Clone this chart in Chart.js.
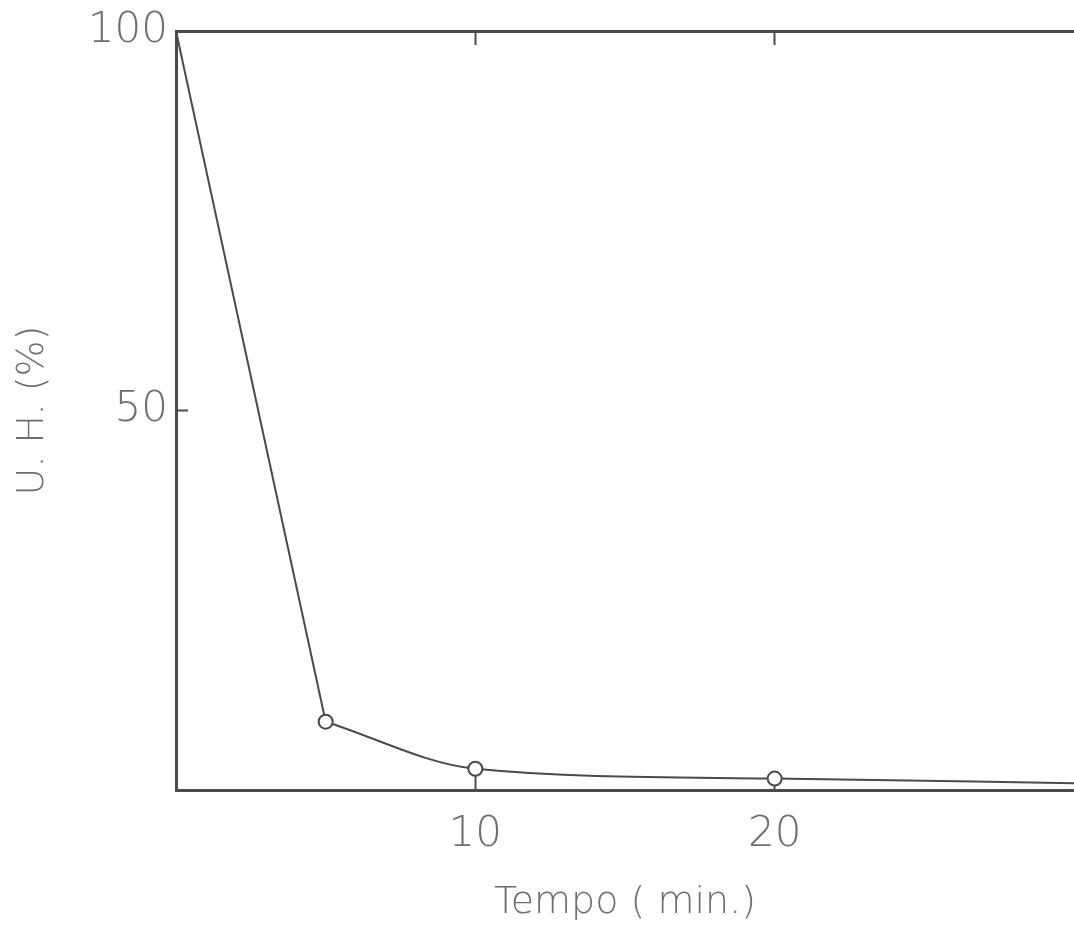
<!DOCTYPE html>
<html>
<head>
<meta charset="utf-8">
<script src="https://cdn.jsdelivr.net/npm/chart.js@4.4.0/dist/chart.umd.min.js"></script>
<style>
  html, body { margin: 0; padding: 0; background: #ffffff; overflow: hidden; }
  #wrap { width: 1074px; height: 950px; position: relative; }
</style>
</head>
<body>
<div id="wrap"><canvas id="chart"></canvas></div>
<script>
// valori
const tempoMin = [0, 5, 10, 20, 30];
const uhValues = [100, 9, 2.8, 1.5, 0.9];
const markerRadius = [0, 7, 7, 7, 0];
const markerBorder = [0, 2, 2, 2, 0];
const xTickValues = [10, 20];
const yTickValues = [50, 100];

const inkColor = '#4a4a4a';
const textColor = '#6e6e6e';
const fontFamily = "'DejaVu Sans', 'Noto Sans', sans-serif";

function toPoints(from, to) {
  const pts = [];
  for (let i = from; i < to; i++) {
    pts.push({ x: tempoMin[i], y: uhValues[i] });
  }
  return pts;
}

function setTicks(values) {
  return function(scale) {
    scale.ticks = values.map(v => ({ value: v }));
  };
}

// niente margini automatici per le etichette
function noPadding(scale) {
  scale.paddingTop = 0;
  scale.paddingBottom = 0;
  scale.paddingLeft = 0;
  scale.paddingRight = 0;
}

const ctx = document.getElementById('chart').getContext('2d');
new Chart(ctx, {
  type: 'scatter',
  data: {
    datasets: [
      {
        // punti misurati (cerchietti vuoti), disegnati sopra le linee
        data: toPoints(0, tempoMin.length),
        showLine: false,
        backgroundColor: '#ffffff',
        borderColor: inkColor,
        pointBorderColor: inkColor,
        pointBorderWidth: markerBorder,
        pointRadius: markerRadius,
        pointHoverRadius: 0
      },
      {
        // tratto iniziale rettilineo
        data: toPoints(0, 2),
        showLine: true,
        borderColor: inkColor,
        borderWidth: 2,
        pointRadius: 0,
        pointHoverRadius: 0,
        pointBorderWidth: 0,
        tension: 0
      },
      {
        // tratto curvo
        data: toPoints(1, tempoMin.length),
        showLine: true,
        borderColor: inkColor,
        borderWidth: 2,
        pointRadius: 0,
        pointHoverRadius: 0,
        pointBorderWidth: 0,
        cubicInterpolationMode: 'monotone'
      }
    ]
  },
  options: {
    responsive: true,
    maintainAspectRatio: false,
    animation: false,
    layout: { autoPadding: false, padding: 0 },
    plugins: {
      legend: { display: false },
      tooltip: { enabled: false }
    },
    scales: {
      x: {
        type: 'linear',
        position: 'bottom',
        min: 0,
        max: 30,
        afterBuildTicks: setTicks(xTickValues),
        afterFit: function(scale) { scale.height = 160; noPadding(scale); },
        border: { color: inkColor, width: 3 },
        grid: { drawOnChartArea: false, drawTicks: true, tickLength: -18, tickColor: inkColor, tickWidth: 2 },
        ticks: {
          color: textColor,
          padding: 38,
          maxRotation: 0,
          font: { family: fontFamily, size: 42, weight: 200 }
        },
        title: {
          display: true,
          text: 'Tempo ( min.)',
          color: textColor,
          padding: { top: 0, bottom: 24 },
          font: { family: fontFamily, size: 38, weight: 200 }
        }
      },
      x2: {
        type: 'linear',
        position: 'top',
        min: 0,
        max: 30,
        afterBuildTicks: setTicks(xTickValues),
        afterFit: function(scale) { scale.height = 31; noPadding(scale); },
        border: { color: inkColor, width: 3 },
        grid: { drawOnChartArea: false, drawTicks: true, tickLength: -14, tickColor: inkColor, tickWidth: 2 },
        ticks: { display: false }
      },
      y: {
        type: 'linear',
        min: 0,
        max: 100,
        afterBuildTicks: setTicks(yTickValues),
        afterFit: function(scale) { scale.width = 176; noPadding(scale); },
        border: { color: inkColor, width: 3 },
        grid: { drawOnChartArea: false, drawTicks: true, tickLength: -12, tickColor: inkColor, tickWidth: 2 },
        ticks: {
          color: textColor,
          padding: 20,
          font: { family: fontFamily, size: 42, weight: 200 }
        },
        title: {
          display: true,
          text: 'U. H. (%)',
          color: textColor,
          padding: { top: 10, bottom: 0 },
          font: { family: fontFamily, size: 38, weight: 200 }
        }
      }
    }
  }
});
</script>
</body>
</html>
